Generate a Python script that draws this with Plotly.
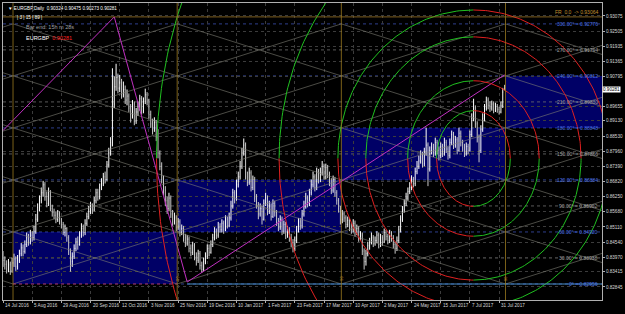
import numpy as np
import plotly.graph_objects as go

# ---------------- data ----------------
DATE_LABELS = ["14 Jul 2016", "5 Aug 2016", "29 Aug 2016", "20 Sep 2016", "12 Oct 2016", "3 Nov 2016",
               "25 Nov 2016", "19 Dec 2016", "10 Jan 2017", "1 Feb 2017", "23 Feb 2017", "17 Mar 2017",
               "10 Apr 2017", "2 May 2017", "24 May 2017", "15 Jun 2017", "7 Jul 2017", "31 Jul 2017"]
DATE_LABEL_BARS = [0, 16, 32, 48, 64, 80, 96, 112, 128, 144, 160, 176, 192, 208, 224, 240, 256, 272]

PRICE_TICKS = [0.93075, 0.92505, 0.91935, 0.91365, 0.90795, 0.89655, 0.89130, 0.88530, 0.87960,
               0.87390, 0.86820, 0.86250, 0.85680, 0.85110, 0.84540, 0.83970, 0.83415, 0.82845]

# daily closes (x1e-4)
CLOSE = [8385, 8370, 8352, 8368, 8345, 8375, 8390, 8362, 8385, 8410,
         8432, 8418, 8445, 8470, 8455, 8480, 8470, 8495,
         8540, 8585, 8610, 8640, 8670, 8625, 8600, 8640, 8580, 8565,
         8555, 8540, 8560, 8530, 8520, 8490, 8505, 8470, 8420, 8380, 8400,
         8430, 8455, 8445, 8480, 8505, 8490, 8525, 8550, 8570, 8590, 8575,
         8610, 8640, 8625, 8660, 8675, 8700, 8690, 8745, 8790, 8830,
         8975, 9040, 9075, 9035, 9055, 9010, 9030, 8990, 9005,
         8960, 8935, 8975, 8910, 8945, 8965, 8995, 8950, 8985, 9010, 8990,
         8935, 8900, 8880, 8905, 8850, 8790, 8740,
         8690, 8650, 8610, 8580, 8620, 8560, 8530, 8545,
         8510, 8530, 8490, 8505, 8470, 8450, 8465, 8430, 8415, 8440, 8400,
         8385, 8410, 8365, 8350, 8380, 8400, 8430, 8415, 8445,
         8470, 8495, 8480, 8510, 8500, 8525, 8500, 8540, 8515, 8545,
         8590, 8640, 8620, 8670, 8700, 8740, 8790, 8820,
         8700, 8680, 8715, 8660, 8690, 8620, 8595, 8560, 8580,
         8540, 8600, 8620, 8570, 8590, 8550, 8600, 8565, 8530,
         8510, 8540, 8495, 8520, 8480, 8500, 8470, 8450, 8430, 8460,
         8500, 8530, 8515, 8560, 8590, 8620, 8600, 8640,
         8670, 8700, 8660, 8720, 8690, 8715, 8740, 8700, 8735, 8710,
         8680, 8650, 8690, 8640, 8610, 8580, 8540, 8560,
         8545, 8520, 8535, 8510, 8500, 8525, 8490, 8505,
         8470, 8480, 8420, 8380, 8410, 8440, 8455, 8470, 8450,
         8460, 8480, 8445, 8470, 8455, 8490, 8475, 8460, 8490, 8470,
         8445, 8430, 8460, 8500, 8540, 8575, 8600, 8620, 8645, 8660,
         8690, 8675, 8720, 8740, 8760, 8785, 8750, 8790,
         8820, 8730, 8800, 8810, 8790, 8830, 8800, 8780,
         8815, 8790, 8830, 8805, 8780, 8830, 8860, 8820,
         8840, 8800, 8865, 8830, 8810, 8790, 8815, 8800,
         8860, 8920, 8960, 8900, 8850, 8800, 8880,
         8920, 8960, 8990, 8970, 8960, 8975, 8950, 8965,
         8955, 8945, 8970, 9020, 9028.1]

HIGH = [8420, 8400, 8385, 8390, 8380, 8395, 8410, 8400, 8405, 8425,
        8450, 8445, 8460, 8490, 8485, 8500, 8495, 8515,
        8560, 8600, 8630, 8660, 8685, 8680, 8645, 8660, 8650, 8595,
        8580, 8570, 8575, 8570, 8545, 8530, 8520, 8510, 8480, 8430, 8415,
        8445, 8470, 8475, 8495, 8525, 8520, 8540, 8565, 8590, 8605, 8600,
        8625, 8655, 8655, 8675, 8695, 8715, 8720, 8760, 8810, 8850,
        9110, 9080, 9127, 9090, 9085, 9070, 9060, 9045, 9030,
        9015, 8975, 8990, 8985, 8960, 8985, 9010, 9005, 9000, 9033, 9020,
        8995, 8950, 8920, 8925, 8915, 8880, 8800,
        8755, 8705, 8665, 8625, 8640, 8630, 8575, 8565,
        8555, 8545, 8540, 8520, 8515, 8485, 8480, 8475, 8445, 8455, 8450,
        8415, 8425, 8420, 8380, 8395, 8415, 8445, 8445, 8460,
        8485, 8510, 8505, 8530, 8525, 8540, 8535, 8555, 8550, 8565,
        8610, 8655, 8650, 8690, 8720, 8760, 8810, 8845,
        8830, 8720, 8735, 8725, 8705, 8700, 8635, 8605, 8600,
        8590, 8615, 8640, 8630, 8610, 8600, 8615, 8610, 8575,
        8545, 8555, 8550, 8535, 8530, 8515, 8510, 8485, 8465, 8475,
        8515, 8545, 8545, 8575, 8610, 8640, 8630, 8655,
        8690, 8720, 8710, 8735, 8730, 8735, 8760, 8750, 8750, 8745,
        8720, 8695, 8705, 8700, 8650, 8620, 8590, 8575,
        8570, 8555, 8550, 8545, 8525, 8540, 8535, 8520,
        8515, 8495, 8490, 8430, 8425, 8455, 8470, 8490, 8480,
        8475, 8495, 8490, 8485, 8480, 8505, 8500, 8485, 8500, 8495,
        8480, 8455, 8475, 8515, 8555, 8590, 8615, 8640, 8660, 8680,
        8706, 8700, 8735, 8760, 8780, 8800, 8795, 8810,
        8886, 8830, 8815, 8830, 8825, 8848, 8840, 8815,
        8830, 8825, 8848, 8840, 8815, 8845, 8875, 8870,
        8855, 8850, 8886, 8875, 8840, 8825, 8830, 8825,
        8875, 8940, 8995, 8970, 8910, 8860, 8895,
        8940, 8975, 9003, 9000, 8985, 8988, 8985, 8980,
        8975, 8965, 8985, 9036, 9047.5]

LOW = [8360, 8350, 8335, 8340, 8330, 8338, 8360, 8345, 8350, 8375,
       8400, 8400, 8410, 8435, 8440, 8445, 8455, 8460,
       8485, 8530, 8570, 8600, 8625, 8610, 8585, 8590, 8570, 8550,
       8540, 8525, 8530, 8520, 8505, 8480, 8475, 8455, 8405, 8342, 8360,
       8390, 8420, 8425, 8440, 8470, 8475, 8480, 8515, 8540, 8560, 8560,
       8570, 8600, 8610, 8615, 8650, 8665, 8675, 8685, 8735, 8780,
       8815, 8960, 9025, 9015, 9020, 8995, 9000, 8975, 8970,
       8945, 8905, 8920, 8895, 8900, 8930, 8950, 8935, 8940, 8975, 8970,
       8920, 8885, 8860, 8870, 8835, 8770, 8725,
       8675, 8630, 8590, 8560, 8570, 8545, 8515, 8520,
       8495, 8500, 8475, 8480, 8455, 8435, 8440, 8415, 8400, 8405, 8385,
       8365, 8375, 8350, 8338, 8345, 8370, 8390, 8400, 8410,
       8435, 8460, 8465, 8470, 8490, 8490, 8485, 8495, 8505, 8510,
       8535, 8580, 8600, 8610, 8660, 8690, 8730, 8780,
       8690, 8665, 8670, 8645, 8650, 8605, 8580, 8540, 8550,
       8520, 8535, 8590, 8555, 8560, 8535, 8545, 8550, 8515,
       8495, 8500, 8480, 8485, 8465, 8470, 8455, 8435, 8415, 8420,
       8450, 8490, 8500, 8505, 8550, 8580, 8585, 8590,
       8630, 8660, 8645, 8650, 8675, 8680, 8705, 8690, 8690, 8695,
       8665, 8635, 8640, 8625, 8595, 8565, 8520, 8525,
       8530, 8505, 8510, 8495, 8485, 8490, 8475, 8480,
       8455, 8460, 8405, 8350, 8365, 8400, 8425, 8445, 8435,
       8440, 8450, 8430, 8435, 8440, 8450, 8460, 8445, 8450, 8455,
       8430, 8410, 8420, 8450, 8490, 8530, 8565, 8590, 8610, 8635,
       8650, 8660, 8665, 8710, 8730, 8750, 8735, 8740,
       8780, 8665, 8720, 8785, 8775, 8780, 8785, 8762,
       8770, 8775, 8780, 8790, 8765, 8770, 8820, 8805,
       8810, 8785, 8795, 8815, 8795, 8775, 8780, 8785,
       8795, 8850, 8910, 8885, 8830, 8755, 8790,
       8870, 8910, 8950, 8955, 8945, 8950, 8940, 8945,
       8942, 8935, 8940, 8960, 9027.3]

FIRST_OPEN = 8395
LAST_OPEN = 9032.4

# Gann-box definition
LEVEL_BASE = 0.82956
LEVEL_STEP = 0.00982
LEVEL_DEG = [0, 30, 60, 90, 120, 150, 180, 210, 240, 270, 300]
LEVEL_LABELS = ["0° = 0.82956", "30.00° = 0.83938", "60.00° = 0.84920", "90.00° = 0.85902",
                "120.00° = 0.86884", "150.00° = 0.87866", "180.00° = 0.88848", "210.00° = 0.89830",
                "240.00° = 0.90812", "270.00° = 0.91794", "300.00° = 0.92776"]
FR_PRICE = 0.93040
TIME_MARKS = [5.5, 95.5, 185.5, 275.5]
ZIGZAG_BARS = [0, 61, 101, 275]
ZIGZAG_PRICES = [0.8875, 0.93040, 0.83030, 0.9085]

# ---------------- helpers ----------------
N = len(CLOSE)
idx = list(range(N))
c = [v / 1e4 for v in CLOSE]
h = [v / 1e4 for v in HIGH]
l = [v / 1e4 for v in LOW]
o = [FIRST_OPEN / 1e4] + c[:-1]
o[-1] = LAST_OPEN / 1e4

PXW = 1.83          # pixels per bar
X0PX = 3
XMAX = (604 - X0PX) / PXW
YTOP, YBOT = 0.93565, 0.82351
PPP = (YTOP - YBOT) / 298.0   # price per pixel

def px2x(px):
    return (px - X0PX) / PXW

def py2p(py):
    return YTOP - (py - 2) * PPP

levels = [LEVEL_BASE + k * LEVEL_STEP for k in range(len(LEVEL_DEG))]

fig = go.Figure()
shapes = []
BAND = "#000066"
band_defs = [(TIME_MARKS[0], TIME_MARKS[1], 0, 2), (TIME_MARKS[1], TIME_MARKS[2], 2, 4),
             (TIME_MARKS[2], TIME_MARKS[3], 4, 6), (TIME_MARKS[3], XMAX, 6, 8)]
for x0, x1, k0, k1 in band_defs:
    shapes.append(dict(type="rect", x0=x0, x1=x1, y0=levels[k0], y1=levels[k1], fillcolor=BAND,
                       line=dict(width=0), layer="below"))

for k, lv in enumerate(levels):
    col = "#3a4fb0" if k % 2 == 0 else "#707070"
    x_start = TIME_MARKS[0] if k == 0 else 0
    shapes.append(dict(type="line", x0=x_start, x1=XMAX, y0=lv, y1=lv,
                       line=dict(color=col, width=0.8, dash="dot"), layer="below"))
# 0-degree base: red dotted on the left, solid steel blue from the low onwards
shapes.append(dict(type="line", x0=TIME_MARKS[0], x1=TIME_MARKS[1], y0=levels[0], y1=levels[0],
                   line=dict(color="#c02040", width=0.8, dash="dot")))
shapes.append(dict(type="line", x0=ZIGZAG_BARS[2], x1=XMAX, y0=levels[0], y1=levels[0],
                   line=dict(color="#4a90c8", width=1.2)))
shapes.append(dict(type="line", x0=0, x1=XMAX, y0=FR_PRICE, y1=FR_PRICE, line=dict(color="#a07828", width=0.8)))
for t in TIME_MARKS:
    shapes.append(dict(type="line", x0=t, x1=t, y0=YBOT, y1=YTOP, line=dict(color="#9a7a20", width=0.8)))

# lattice lines
lx, ly = [], []
bounds = [TIME_MARKS[0] + 90 * j for j in range(-1, 5)]
for j in range(len(bounds) - 1):
    for k in range(0, len(levels) - 2, 2):
        lx += [bounds[j], bounds[j + 1], None, bounds[j], bounds[j + 1], None]
        ly += [levels[k], levels[k + 2], None, levels[k + 2], levels[k], None]
fig.add_trace(go.Scatter(x=lx, y=ly, mode="lines", line=dict(color="#7e7e74", width=0.6), hoverinfo="skip"))

fig.add_trace(go.Ohlc(x=idx, open=o, high=h, low=l, close=c,
                      increasing=dict(line=dict(color="#ffffff", width=1)),
                      decreasing=dict(line=dict(color="#c8c8c8", width=1)), tickwidth=0.2))

fig.add_trace(go.Scatter(x=ZIGZAG_BARS, y=ZIGZAG_PRICES, mode="lines", line=dict(color="#c030c0", width=1),
                         hoverinfo="skip"))

# arcs: ellipses in screen pixels (center, rx, ry)
ARC_CENTER_PX = (475, 158)
ARC_RX_PX = [37, 66, 108, 136, 195, 318]
ARC_RY_PX = [48, 78, 122, 149, 240, 400]
cx, cy = ARC_CENTER_PX
for rx, ry in zip(ARC_RX_PX, ARC_RY_PX):
    for a0, a1, col in [(90, 180, "#20c020"), (180, 270, "#e02020"), (270, 360, "#20c020"), (0, 90, "#e02020")]:
        th = np.radians(np.linspace(a0, a1, 90))
        xs = [px2x(cx + rx * np.cos(t)) for t in th]
        ys = [py2p(cy - ry * np.sin(t)) for t in th]
        fig.add_trace(go.Scatter(x=xs, y=ys, mode="lines", line=dict(color=col, width=1), hoverinfo="skip"))

ann = []
for k, lv in enumerate(levels):
    col = "#4a70e0" if k % 2 == 0 else "#a0a0a0"
    ann.append(dict(x=XMAX - 1, y=lv, text=LEVEL_LABELS[k], xanchor="right", yanchor="middle", showarrow=False,
                    font=dict(size=5, color=col, family="Liberation Sans")))
ann.append(dict(x=XMAX - 1, y=FR_PRICE, text="FR  0.0  -> 0.93064", xanchor="right", yanchor="bottom",
                showarrow=False, font=dict(size=5, color="#c09030", family="Liberation Sans")))
for t in TIME_MARKS[1:]:
    ann.append(dict(x=t, y=levels[0], text="90", xanchor="center", yanchor="bottom", showarrow=False, yshift=1,
                    textangle=-90, font=dict(size=4, color="#c09030", family="Liberation Sans")))
for b, t in zip(DATE_LABEL_BARS, DATE_LABELS):
    ann.append(dict(x=b, y=0, yref="paper", text=t, xanchor="left", yanchor="top", showarrow=False, yshift=-1,
                    font=dict(size=4.6, color="#d8d8d8", family="Liberation Sans")))
ann.append(dict(x=1, xref="paper", y=c[-1], text="0.90281", xanchor="left", yanchor="middle", showarrow=False,
                bgcolor="#ffffff", font=dict(size=4.6, color="#000000", family="Liberation Sans"), borderpad=0))
ann.append(dict(x=0.005, xref="paper", y=0.995, yref="paper", text="▼ EURGBP,Daily  0.90324 0.90475 0.90273 0.90281",
                xanchor="left", yanchor="top", showarrow=False, font=dict(size=4.6, color="#ffffff", family="Liberation Sans")))
ann.append(dict(x=0.02, xref="paper", y=0.965, yref="paper", text="| 3 | 15 | 89 |",
                xanchor="left", yanchor="top", showarrow=False, font=dict(size=4.6, color="#ffffff", family="Liberation Sans")))
ann.append(dict(x=0.035, xref="paper", y=0.935, yref="paper", text="Bar end: 15h m 28s",
                xanchor="left", yanchor="top", showarrow=False, font=dict(size=5.5, color="#a0a0a0", family="Liberation Sans")))
ann.append(dict(x=0.035, xref="paper", y=0.9, yref="paper", text="EURGBP  <span style='color:#ff2020'>0.90281</span>",
                xanchor="left", yanchor="top", showarrow=False, font=dict(size=5.5, color="#ffffff", family="Liberation Sans")))

fig.update_layout(
    width=625, height=314, margin=dict(l=3, r=21, t=2, b=14),
    paper_bgcolor="#000000", plot_bgcolor="#000000", showlegend=False,
    shapes=shapes, annotations=ann,
    xaxis=dict(range=[0, XMAX], tickvals=DATE_LABEL_BARS, showticklabels=False, showgrid=True,
               gridcolor="#3c3c3c", griddash="dot", gridwidth=0.6, zeroline=False, rangeslider=dict(visible=False),
               showline=True, linecolor="#b0b0b0", linewidth=1, mirror=True, ticks="outside", ticklen=2,
               tickcolor="#b0b0b0"),
    yaxis=dict(range=[YBOT, YTOP], side="right", tickvals=PRICE_TICKS, ticktext=[f"{v:.5f}" for v in PRICE_TICKS],
               showgrid=True, gridcolor="#3c3c3c", griddash="dot", gridwidth=0.6, zeroline=False,
               tickfont=dict(size=4.6, color="#d8d8d8", family="Liberation Sans"),
               showline=True, linecolor="#b0b0b0", linewidth=1, mirror=True, ticks="outside", ticklen=2,
               tickcolor="#b0b0b0"),
)
fig.write_html("out.html")
